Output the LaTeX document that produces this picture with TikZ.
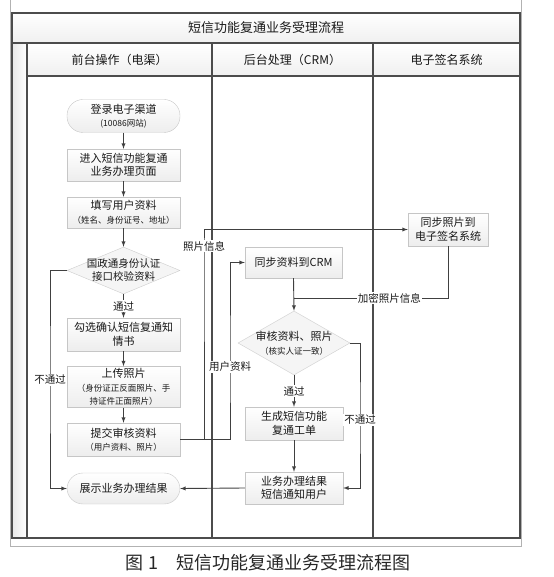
\documentclass[tikz,border=0pt]{standalone}
\usepackage{fontspec}
\setmainfont{Noto Sans CJK SC}
\usepackage{tikz}
\usetikzlibrary{shapes.geometric}
\newcommand\smtxt{\fontsize{8.5}{10}\selectfont}

\begin{document}
\begin{tikzpicture}[x=1pt, y=-1pt, >=latex,
    proc/.style={draw=gray!45, top color=white, bottom color=gray!14, text=black!90,
        minimum width=113pt, minimum height=32pt, inner sep=2pt, align=center,
        font=\fontsize{11}{13.5}\selectfont},
    term/.style={proc, rounded corners=16pt},
    decide/.style={diamond, draw=gray!40, fill=gray!8, inner sep=0pt},
    flow/.style={draw=black!75, line width=0.9pt},
    lbl/.style={fill=white, inner sep=1pt, text=black!90, font=\fontsize{10.5}{12}\selectfont}]
    \useasboundingbox (0,0) rectangle (553,577);
    \colorlet{frame}{black!70}
    % pool and lanes
    \draw[gray!60] (10.5,0) -- (10.5,546) -- (521.5,546) -- (521.5,0);
    \shade[top color=white, bottom color=gray!12] (12,13) rectangle (520,43);
    \shade[top color=white, bottom color=gray!12] (27,43) rectangle (520,76);
    \shade[left color=gray!18, right color=white] (12,43) rectangle (27,538);
    \draw[frame, line width=1.3pt] (12,13) rectangle (520,538);
    \draw[frame, line width=1.1pt] (12,43) -- (520,43);
    \draw[frame, line width=1.1pt] (27,43) -- (27,538);
    \draw[frame, line width=1.1pt] (27,76) -- (520,76);
    \foreach \x in {212, 373} \draw[frame, line width=1.1pt] (\x,43) -- (\x,538);
    \node[text=black!90, font=\fontsize{13}{15}\selectfont] (title) at (266,28) {短信功能复通业务受理流程};
    \node[text=black!90, font=\fontsize{12}{14}\selectfont] (lanea) at (119.5,60) {前台操作（电渠）};
    \node[text=black!90, font=\fontsize{12}{14}\selectfont] (laneb) at (292.5,60) {后台处理（CRM）};
    \node[text=black!90, font=\fontsize{12}{14}\selectfont] (lanec) at (446.5,60) {电子签名系统};

    % front desk
    \node[term, minimum height=33pt] (login) at (123.5,116) {登录电子渠道\\\smtxt(10086网站)};
    \node[proc] (enterpg) at (123.5,165) {进入短信功能复通\\业务办理页面};
    \node[proc, minimum height=31pt] (fillinfo) at (123.5,212.5) {填写用户资料\\\smtxt（姓名、身份证号、地址）};
    \node[decide, minimum width=113pt, minimum height=47pt,
        label={[align=center, text=black!90, font=\fontsize{10.5}{13}\selectfont]center:国政通身份认证\\接口校验资料}] (idcheck) at (123.5,270.5) {};
    \node[proc, minimum height=33pt] (agree) at (123.5,334.5) {勾选确认短信复通知\\情书};
    \node[proc, minimum height=40pt] (upload) at (123.5,387) {上传照片\\\smtxt（身份证正反面照片、手\\\smtxt 持证件正面照片）};
    \node[proc, minimum height=33pt] (submit) at (123.5,439.5) {提交审核资料\\\smtxt（用户资料、照片）};
    \node[term, minimum height=31pt] (showres) at (123.5,488.5) {展示业务办理结果};

    % back office
    \node[proc, minimum width=97pt, minimum height=31pt] (synccrm) at (293.5,262.5) {同步资料到CRM};
    \node[decide, minimum width=112pt, minimum height=64pt,
        label={[align=center, text=black!90, font=\fontsize{11}{14}\selectfont]center:审核资料、照片\\\smtxt（核实人证一致）}] (audit) at (294,343) {};
    \node[proc, minimum width=98pt, minimum height=33pt] (mkorder) at (294,423.5) {生成短信功能\\复通工单};
    \node[proc, minimum width=98pt, minimum height=32pt] (notify) at (294,488) {业务办理结果\\短信通知用户};

    % e-signature
    \node[proc, minimum width=80pt, minimum height=33pt] (syncsig) at (448,229.5) {同步照片到\\电子签名系统};

    \coordinate (lx) at (50,380);
    \coordinate (rx) at (360,420);
    \coordinate (px) at (204,246);
    \coordinate (ux) at (230,367);
    \coordinate (jn) at (293.5,298);

    \draw[flow, ->] (login) -- (enterpg);
    \draw[flow, ->] (enterpg) -- (fillinfo);
    \draw[flow, ->] (fillinfo) -- (idcheck.north);
    \draw[flow, ->] (idcheck.south) -- node[lbl] {通过} (agree.north);
    \draw[flow, ->] (agree) -- (upload);
    \draw[flow, ->] (upload) -- (submit);
    \draw[flow, ->] (idcheck.west) -| (lx) |- (showres.west);
    \node[lbl] (nopassa) at (lx) {不通过};

    \draw[flow, ->] (submit.east) -| (px) |- (syncsig.west);
    \node[lbl] (photoinfo) at (px) {照片信息};
    \draw[flow, ->] (submit.east) -| (ux) |- (synccrm.west);
    \node[lbl] (userinfo) at (ux) {用户资料};

    \draw[flow, ->] (synccrm.south) -- (audit.north);
    \draw[flow] (syncsig.south) |- node[lbl, pos=0.69] {加密照片信息} (jn);
    \draw[flow, ->] (audit.south) -- node[lbl] {通过} (mkorder.north);
    \draw[flow, ->] (mkorder) -- (notify);
    \draw[flow, ->] (audit.east) -| (rx) |- (notify.east);
    \node[lbl] (nopassb) at (rx) {不通过};
    \draw[flow, ->] (notify.west) -- (showres.east);

    \node[text=black!85, font=\fontsize{18}{20}\selectfont] (caption) at (268,563) {图 1\quad 短信功能复通业务受理流程图};
\end{tikzpicture}
\end{document}
